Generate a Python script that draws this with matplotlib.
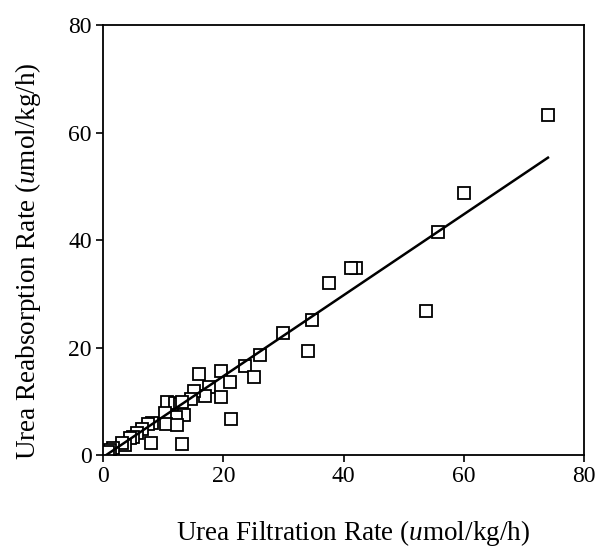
import numpy as np
import matplotlib
matplotlib.use("Agg")
import matplotlib.pyplot as plt

# urea filtration vs reabsorption (umol/kg/h)
filtration = [74.0, 60.1, 55.7, 42.1, 41.3, 37.6, 34.8, 34.1, 53.7, 29.9,
              26.1, 23.6, 25.1, 19.6, 21.1, 16.0, 17.6, 17.0, 15.1, 19.6,
              21.3, 13.1, 14.6, 10.6, 12.0, 12.8, 13.5, 12.1, 10.3, 10.5,
              12.3, 8.2, 7.5, 8.0, 6.5, 5.7, 5.0, 4.5, 3.7, 3.2,
              1.7, 1.2, 0.3, 0.6, 0.8, 13.2]
reabsorption = [63.3, 48.7, 41.5, 34.8, 34.8, 32.0, 25.1, 19.3, 26.8, 22.7,
                18.6, 16.6, 14.5, 15.6, 13.6, 15.0, 12.7, 11.0, 11.9, 10.8,
                6.7, 2.0, 10.4, 9.8, 9.7, 9.5, 7.4, 7.1, 7.8, 5.8,
                5.6, 6.0, 5.8, 2.2, 4.8, 4.1, 3.4, 3.2, 1.9, 2.2,
                1.3, 0.9, 0.4, 0.1, 0.6, 9.9]

# regression line
slope = 0.753
intercept = -0.4

x = np.array(filtration)
y = np.array(reabsorption)

plt.rcParams['font.family'] = ['Liberation Serif', 'DejaVu Serif']
plt.rcParams['mathtext.fontset'] = 'custom'
plt.rcParams['mathtext.rm'] = 'Liberation Serif'
plt.rcParams['mathtext.it'] = 'Liberation Serif:italic'

fig = plt.figure(figsize=(5.99, 5.5), dpi=100)
ax = fig.add_axes([0.172, 0.1727, 0.803, 0.7818])

ax.plot(x, y, linestyle='none', marker='s', markersize=8.5,
        markerfacecolor='white', markeredgecolor='black', markeredgewidth=1.3)

xl = np.array([0, x.max()])
ax.plot(xl, slope * xl + intercept, color='black', linewidth=1.8)

ax.set_xlim(0, 80)
ax.set_ylim(0, 80)
ax.set_xticks([0, 20, 40, 60, 80])
ax.set_yticks([0, 20, 40, 60, 80])
ax.tick_params(direction='out', length=5, width=1.2, labelsize=17, pad=3,
               top=False, right=False)
for s in ax.spines.values():
    s.set_linewidth(1.3)

ax.set_xlabel('Urea Filtration Rate ($\\mathit{u}$mol/kg/h)', fontsize=19.5)
ax.set_ylabel('Urea Reabsorption Rate ($\\mathit{u}$mol/kg/h)', fontsize=19.5)
ax.xaxis.set_label_coords(0.52, -0.147)
ax.yaxis.set_label_coords(-0.125, 0.45)

fig.savefig('out.png', dpi=100)
